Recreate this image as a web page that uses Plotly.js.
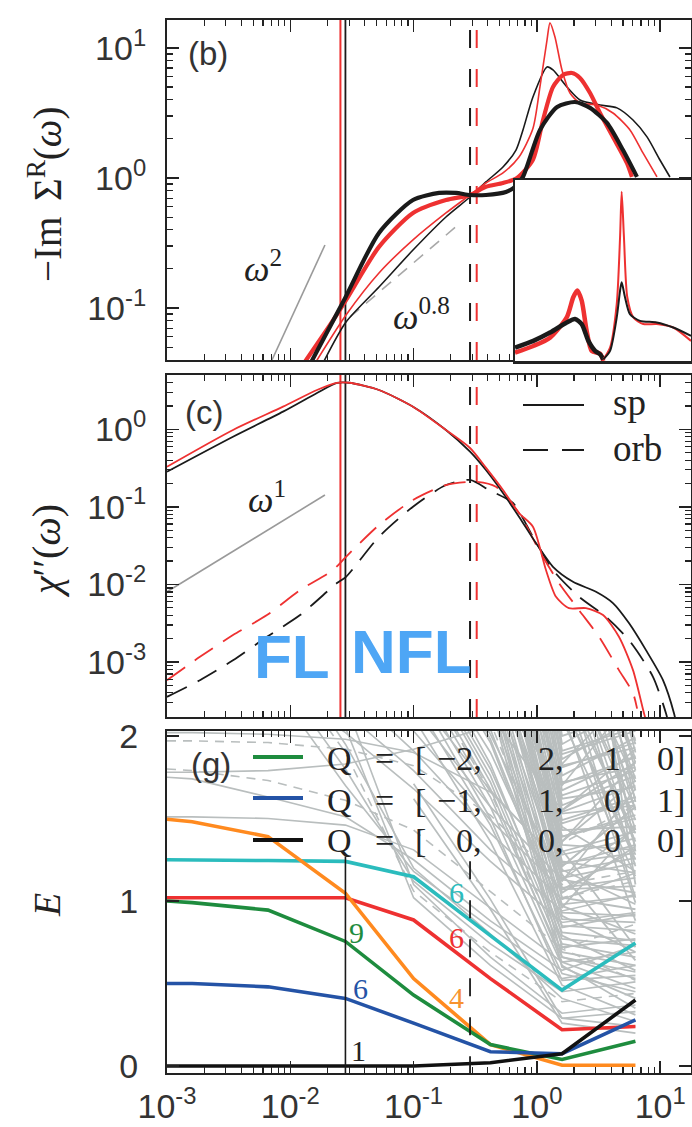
<!DOCTYPE html>
<html>
<head>
<meta charset="utf-8">
<script src="https://cdn.plot.ly/plotly-3.0.1.min.js"></script>
<style>
  html, body { margin: 0; padding: 0; background: #fff; }
  #chart { width: 692px; height: 1127px; }
</style>
</head>
<body>
<div id="chart"></div>
<script>
// ---------- panel (b): -Im Sigma^R(omega) ----------
const bThickBlackW = [0.0147, 0.0278, 0.0524, 0.0989, 0.161, 0.221, 0.287, 0.386, 0.561, 0.670, 0.771, 1.06, 1.46, 2.04, 2.70, 3.70, 4.99, 6.48];
const bThickBlackS = [0.038, 0.119, 0.378, 0.677, 0.767, 0.767, 0.740, 0.740, 0.780, 0.860, 1.02, 2.34, 3.52, 3.84, 3.46, 2.65, 1.64, 1.02];
const bThickRedW = [0.0130, 0.0210, 0.0283, 0.0524, 0.0989, 0.183, 0.287, 0.386, 0.531, 0.690, 0.929, 1.121, 1.351, 1.628, 1.926, 2.237, 2.70, 3.25, 4.14, 5.38, 5.90];
const bThickRedS = [0.038, 0.074, 0.115, 0.295, 0.538, 0.677, 0.740, 0.855, 0.915, 1.00, 1.38, 2.79, 5.01, 6.20, 6.42, 5.88, 4.50, 3.16, 2.07, 1.30, 1.02];
const bThinRedW = [0.0160, 0.0283, 0.0524, 0.0989, 0.183, 0.287, 0.386, 0.531, 0.716, 0.929, 1.059, 1.208, 1.277, 1.40, 1.598, 1.855, 2.237, 3.07, 4.14, 5.69, 7.25, 9.42];
const bThinRedS = [0.038, 0.0883, 0.186, 0.334, 0.538, 0.740, 0.915, 1.093, 1.45, 2.40, 5.01, 11.5, 15.6, 12.2, 6.77, 4.50, 3.78, 3.64, 3.16, 2.34, 1.557, 1.018];
const bThinBlackW = [0.0185, 0.0283, 0.0524, 0.0989, 0.183, 0.287, 0.386, 0.531, 0.677, 0.771, 0.929, 1.208, 1.351, 1.754, 2.237, 3.25, 4.46, 6.02, 7.82, 9.96, 12.0];
const bThinBlackS = [0.038, 0.078, 0.145, 0.279, 0.501, 0.714, 0.932, 1.215, 1.64, 2.34, 4.20, 7.14, 6.77, 5.01, 3.98, 3.64, 3.46, 2.79, 2.07, 1.375, 1.018];
const omega2W = [0.0071, 0.0191];
const omega2S = [0.0398, 0.305];
const omega08W = [0.0305, 0.229];
const omega08S = [0.0853, 0.435];

// inset of panel (b), linear frequency axis
const insetThickBlackX = [0, 0.104, 0.199, 0.294, 0.341, 0.379, 0.417, 0.455, 0.483, 0.502];
const insetThickBlackY = [0.074, 0.111, 0.157, 0.213, 0.232, 0.204, 0.111, 0.056, 0.037, 0.009];
const insetThickRedX = [0, 0.104, 0.199, 0.294, 0.331, 0.354, 0.379, 0.407, 0.436, 0.483, 0.502];
const insetThickRedY = [0.046, 0.083, 0.129, 0.241, 0.352, 0.389, 0.333, 0.167, 0.056, 0.041, 0.0];
const insetThinBlackX = [0.502, 0.540, 0.578, 0.597, 0.606, 0.625, 0.653, 0.710, 0.805, 0.899, 1.0];
const insetThinBlackY = [0.009, 0.056, 0.241, 0.389, 0.435, 0.352, 0.259, 0.222, 0.213, 0.185, 0.139];
const insetThinRedX = [0.502, 0.540, 0.578, 0.597, 0.606, 0.619, 0.638, 0.672, 0.729, 0.805, 0.899, 1.0];
const insetThinRedY = [0.009, 0.074, 0.315, 0.685, 0.935, 0.685, 0.352, 0.241, 0.204, 0.204, 0.185, 0.111];

// ---------- panel (c): chi''(omega) ----------
const cSpBlackW = [0.001, 0.00343, 0.00873, 0.01646, 0.02392, 0.0300, 0.0524, 0.0989, 0.183, 0.287, 0.386, 0.531, 0.716, 0.983, 1.351, 1.962, 3.015, 4.14, 5.58, 7.67, 10.54, 12.94, 13.6];
const cSpBlackV = [0.284, 0.803, 1.687, 2.94, 3.96, 3.98, 3.21, 1.957, 0.98, 0.514, 0.298, 0.1507, 0.0745, 0.0341, 0.01687, 0.01081, 0.00803, 0.00574, 0.00317, 0.00142, 0.000582, 0.000218, 0.00015];
const cSpRedW = [0.001, 0.00343, 0.00873, 0.01646, 0.02392, 0.0300, 0.0524, 0.0989, 0.183, 0.287, 0.386, 0.531, 0.716, 0.929, 1.185, 1.429, 1.82, 2.5, 3.44, 4.63, 6.02, 7.39, 7.9];
const cSpRedV = [0.329, 0.98, 1.957, 3.21, 3.96, 3.98, 3.21, 1.957, 0.98, 0.574, 0.32, 0.165, 0.0832, 0.0554, 0.0153, 0.00692, 0.00494, 0.00494, 0.00402, 0.00211, 0.000784, 0.000218, 0.00015];
const cOrbBlackW = [0.001, 0.00185, 0.00343, 0.00647, 0.0120, 0.02392, 0.0283, 0.0524, 0.0989, 0.183, 0.287, 0.409, 0.640, 0.929, 1.351, 2.195, 3.63, 5.58, 8.74, 11.14, 11.8];
const cOrbBlackV = [0.000355, 0.000582, 0.00105, 0.00211, 0.00402, 0.0104, 0.01253, 0.0411, 0.1003, 0.191, 0.222, 0.165, 0.112, 0.0411, 0.0153, 0.00692, 0.00382, 0.00191, 0.000643, 0.000218, 0.00015];
const cOrbRedW = [0.001, 0.00185, 0.00343, 0.00647, 0.0120, 0.0222, 0.0283, 0.0524, 0.0989, 0.183, 0.3207, 0.4656, 0.716, 1.04, 1.51, 2.195, 3.19, 4.63, 6.02, 6.5];
const cOrbRedV = [0.000582, 0.001164, 0.00222, 0.00402, 0.00844, 0.0153, 0.0227, 0.0582, 0.1224, 0.191, 0.211, 0.1817, 0.0832, 0.0277, 0.0104, 0.00466, 0.00211, 0.000784, 0.000396, 0.00025];
const omega1W = [0.001, 0.0191];
const omega1V = [0.00803, 0.142];

// crossover scales (FL | NFL) marked by vertical lines
const solidMarks = { red: 0.0255, black: 0.0280 };
const dashedMarks = { red: 0.325, black: 0.287 };

// ---------- panel (g): level spectrum E(T) ----------
const tNodes = [0.001, 0.0016, 0.0066, 0.028, 0.1, 0.42, 1.6, 6.3];
const tNodesHigh = [0.1, 0.42, 1.6, 6.3];
const tNodesTop = [0.42, 1.6, 6.3];
const levelGreen  = [1.00, 0.99, 0.945, 0.755, 0.43, 0.13, 0.04, 0.15];
const levelBlue   = [0.50, 0.50, 0.48, 0.41, 0.26, 0.087, 0.075, 0.28];
const levelBlack  = [0.0, 0.0, 0.0, 0.0, 0.0, 0.02, 0.075, 0.40];
const levelOrange = [1.495, 1.48, 1.39, 1.047, 0.53, 0.13, 0.005, 0.005];
const levelCyan   = [1.25, 1.25, 1.245, 1.24, 1.147, 0.79, 0.46, 0.745];
const levelRed    = [1.02, 1.02, 1.02, 1.02, 0.885, 0.53, 0.22, 0.24];

const greyLow = [
  [2.02, 2.02, 2.01, 1.98, 1.90, 1.66, 1.22, 1.34],
  [1.78, 1.78, 1.79, 1.83, 1.92, 2.06, 2.28, 2.40],
  [1.75, 1.74, 1.63, 1.51, 1.25, 0.88, 0.58, 0.73],
  [1.51, 1.51, 1.50, 1.46, 1.31, 0.96, 0.63, 0.69],
  [2.45, 2.45, 2.35, 2.02, 1.68, 1.24, 0.87, 0.93],
  [2.62, 2.62, 2.50, 2.14, 1.79, 1.31, 0.94, 1.04],
  [2.85, 2.85, 2.71, 2.29, 1.91, 1.41, 1.01, 1.17],
  [3.05, 3.05, 2.92, 2.46, 2.03, 1.49, 1.07, 1.31],
  [3.25, 3.25, 3.10, 2.61, 2.16, 1.57, 1.13, 1.44],
  [3.45, 3.45, 3.30, 2.76, 2.26, 1.67, 1.21, 1.57],
  [2.60, 2.60, 2.45, 1.80, 1.12, 0.74, 0.45, 0.51],
  [2.50, 2.50, 2.35, 1.70, 1.18, 0.84, 0.53, 0.61],
  [2.90, 2.90, 2.75, 2.05, 1.02, 0.61, 0.29, 0.33],
  [3.10, 3.10, 2.95, 2.20, 1.10, 0.66, 0.32, 0.37],
  [2.80, 2.80, 2.65, 1.95, 1.20, 0.80, 0.41, 0.27]
];
const greyLowDashed = [
  [1.97, 1.97, 1.96, 1.92, 1.82, 1.52, 1.10, 1.18],
  [1.80, 1.79, 1.73, 1.61, 1.43, 1.06, 0.71, 0.86],
  [2.70, 2.70, 2.55, 1.90, 1.06, 0.69, 0.39, 0.44]
];
const greyHigh = [
  [2.55, 1.72, 0.69, 0.61], [2.68, 1.83, 0.77, 0.73], [2.74, 1.96, 0.85, 0.82],
  [2.90, 2.04, 0.93, 0.91], [2.96, 2.17, 0.98, 1.03], [3.10, 2.24, 1.07, 1.09],
  [3.14, 2.36, 1.14, 1.23], [3.28, 2.47, 1.23, 1.29], [3.35, 2.53, 1.30, 1.42],
  [3.46, 2.66, 1.39, 1.50], [3.55, 2.74, 1.47, 1.61], [3.62, 2.86, 1.54, 1.70],
  [3.74, 2.93, 1.64, 1.79], [3.81, 3.07, 1.71, 1.87], [3.93, 3.14, 1.81, 1.96],
  [4.02, 3.26, 1.89, 2.03], [4.10, 3.38, 2.31, 1.41], [4.21, 3.49, 2.52, 1.56],
  [4.30, 3.57, 2.68, 1.72], [4.37, 3.66, 2.93, 1.84], [4.45, 3.78, 3.18, 1.97],
  [2.36, 1.57, 0.61, 0.35], [2.22, 1.46, 0.56, 0.45], [2.11, 1.36, 0.49, 0.31],
  [2.41, 1.63, 0.66, 0.57], [2.57, 1.76, 0.74, 0.66], [1.62, 0.95, 0.26, 0.20],
  [1.71, 1.01, 0.29, 0.24], [4.50, 3.85, 2.10, 1.15], [4.60, 3.95, 2.20, 1.28],
  [4.70, 4.05, 2.45, 1.02], [4.80, 4.15, 2.62, 1.33], [2.80, 2.12, 1.55, 1.92],
  [3.00, 2.30, 1.70, 2.25], [2.90, 2.40, 1.36, 1.84], [3.20, 2.58, 1.83, 2.30],
  [2.64, 1.90, 0.96, 1.46], [2.75, 2.01, 1.12, 1.68], [3.40, 2.80, 1.19, 0.98],
  [3.52, 2.90, 1.45, 1.18], [2.30, 1.50, 0.52, 0.55], [2.48, 1.68, 0.63, 0.47],
  [2.60, 1.80, 0.81, 0.76], [2.83, 1.98, 0.89, 0.87]
];
const greyHighDashed = [
  [2.86, 2.08, 1.02, 1.12], [3.32, 2.62, 1.35, 1.58], [2.46, 1.66, 0.71, 0.52]
];
// levels entering from above near T ~ 1
const greyTop = [
  [2.60, 1.02, 0.95], [2.70, 1.08, 1.14], [2.80, 1.13, 1.05], [2.90, 1.18, 1.26],
  [3.00, 1.24, 1.17], [3.10, 1.28, 1.38], [3.20, 1.34, 1.31], [3.30, 1.39, 1.52],
  [3.40, 1.43, 1.45], [3.50, 1.49, 1.63], [3.60, 1.53, 1.58], [3.70, 1.58, 1.76],
  [3.80, 1.62, 1.69], [3.90, 1.67, 1.88], [4.00, 1.72, 1.81], [4.10, 1.76, 1.99],
  [4.20, 1.82, 1.93], [4.30, 1.86, 2.10], [4.40, 1.91, 2.05], [4.50, 1.95, 2.20],
  [4.60, 2.00, 2.15], [2.50, 0.97, 0.80], [2.45, 0.91, 0.69], [2.40, 0.84, 0.92],
  [2.35, 0.79, 0.58], [2.30, 0.72, 0.77], [2.25, 0.66, 0.53], [2.20, 0.60, 0.41],
  [3.00, 2.20, 1.25], [3.20, 2.40, 1.36], [3.40, 2.55, 1.49], [3.60, 2.75, 1.62],
  [3.80, 2.95, 1.74], [4.00, 3.10, 1.86], [4.20, 3.30, 1.95], [4.40, 3.50, 1.60],
  [4.60, 3.70, 1.30], [4.80, 3.90, 1.10], [2.90, 2.15, 0.88], [3.10, 2.35, 0.99],
  [3.35, 2.62, 1.21], [3.55, 2.85, 1.43], [3.75, 3.02, 1.55], [3.95, 3.22, 1.67],
  [4.15, 3.42, 1.79], [4.35, 3.60, 1.90], [2.65, 1.05, 1.33], [2.95, 1.21, 1.57],
  [3.25, 1.36, 1.73], [3.65, 1.55, 1.84], [2.85, 1.16, 0.64], [3.15, 1.31, 0.72]
];

// degeneracy labels and quantum-number legend
const degeneracy = [
  { text: '9', color: '#1e8c3e', px: 356, py: 932 },
  { text: '6', color: '#2453a6', px: 360, py: 988 },
  { text: '1', color: '#222222', px: 358, py: 1050 },
  { text: '6', color: '#2bbcbd', px: 456, py: 893 },
  { text: '6', color: '#ee3131', px: 456, py: 937 },
  { text: '4', color: '#f7932e', px: 456, py: 997 }
];
const qRows = [
  { color: '#1e8c3e', cells: ['\u22122,', '2,', '1', '0]'] },
  { color: '#2453a6', cells: ['\u22121,', '1,', '0', '1]'] },
  { color: '#111111', cells: ['0,', '0,', '0', '0]'] }
];

// ---------- helpers ----------
const W = 692, H = 1127, ML = 167, MR = 1, MT = 20, MB = 54;
const pw = W - ML - MR, ph = H - MT - MB;
const px = v => (v - ML) / pw;          // pixel column -> paper x
const py = v => (H - MB - v) / ph;      // pixel row -> paper y

const traces = [];
function addLine(x, y, ax, color, width, dash, spline) {
  traces.push({
    type: 'scatter', mode: 'lines', x: x, y: y,
    xaxis: 'x' + ax, yaxis: 'y' + ax,
    line: { color: color, width: width, dash: dash || 'solid', shape: spline ? 'spline' : 'linear', smoothing: 0.7 },
    hoverinfo: 'skip', showlegend: false
  });
}

const RED = '#ee3131', BLK = '#1a1a1a', GREY = '#9a9a9a', LGREY = '#b9bebe';

// panel (b)
addLine(omega2W, omega2S, '', GREY, 1.6);
addLine(omega08W, omega08S, '', '#a8a8a8', 1.6, '12px,9px');
addLine(bThinBlackW, bThinBlackS, '', BLK, 1.6, null, true);
addLine(bThinRedW, bThinRedS, '', RED, 1.6, null, true);
addLine(bThickRedW, bThickRedS, '', RED, 4.2, null, true);
addLine(bThickBlackW, bThickBlackS, '', BLK, 4.2, null, true);
// inset
addLine(insetThickRedX, insetThickRedY, '4', RED, 4.5, null, true);
addLine(insetThickBlackX, insetThickBlackY, '4', BLK, 4.5, null, true);
addLine(insetThinRedX, insetThinRedY, '4', RED, 2, null, true);
addLine(insetThinBlackX, insetThinBlackY, '4', BLK, 2, null, true);
// panel (c)
addLine(omega1W, omega1V, '2', GREY, 1.6);
addLine(cOrbBlackW, cOrbBlackV, '2', BLK, 1.8, '22px,12px', true);
addLine(cOrbRedW, cOrbRedV, '2', RED, 1.8, '22px,12px', true);
addLine(cSpBlackW, cSpBlackV, '2', BLK, 1.8, null, true);
addLine(cSpRedW, cSpRedV, '2', RED, 1.8, null, true);
// panel (g)
greyLow.forEach(r => addLine(tNodes, r, '3', LGREY, 1.6));
greyLowDashed.forEach(r => addLine(tNodes, r, '3', LGREY, 1.6, '9px,7px'));
greyHigh.forEach(r => addLine(tNodesHigh, r, '3', LGREY, 1.7));
greyHighDashed.forEach(r => addLine(tNodesHigh, r, '3', LGREY, 1.6, '9px,7px'));
greyTop.forEach(r => addLine(tNodesTop, r, '3', LGREY, 1.8));
addLine(tNodes, levelCyan, '3', '#2bbcbd', 3.6);
addLine(tNodes, levelRed, '3', '#ee3131', 3.6);
addLine(tNodes, levelOrange, '3', '#ff8a1f', 3.6);
addLine(tNodes, levelGreen, '3', '#1e8c3e', 3.6);
addLine(tNodes, levelBlue, '3', '#2453a6', 3.6);
addLine(tNodes, levelBlack, '3', '#111111', 3.6);

// ---------- axes ----------
const minorVals = [];
for (let e = -4; e <= 1; e++) for (let k = 2; k <= 9; k++) minorVals.push(k * Math.pow(10, e));
const tickFont = { family: 'Liberation Sans, Arial, sans-serif', size: 34, color: '#333' };
const sup = e => '10<sup>' + e + '</sup>';
const baseAxis = {
  showgrid: false, zeroline: false, showline: true, linecolor: '#222', linewidth: 2,
  mirror: 'ticks', ticks: 'inside', ticklen: 12, tickwidth: 1.5, tickcolor: '#222',
  tickfont: tickFont, fixedrange: true
};
const logMinor = { ticks: 'inside', ticklen: 6, tickwidth: 1.2, tickcolor: '#222', tickmode: 'array', tickvals: minorVals, showgrid: false };
function xAxis(anchor, labels) {
  return Object.assign({}, baseAxis, {
    type: 'log', range: [-3, 1.25], domain: [0, 1], anchor: anchor,
    tickmode: 'array', tickvals: [0.001, 0.01, 0.1, 1, 10],
    ticktext: [sup('-3'), sup('-2'), sup('-1'), sup('0'), sup('1')],
    showticklabels: labels, ticklabelstandoff: 2, minor: logMinor
  });
}

const layout = {
  width: W, height: H,
  margin: { l: ML, r: MR, t: MT, b: MB },
  paper_bgcolor: '#fff', plot_bgcolor: '#fff',
  font: { family: 'Liberation Sans, Arial, sans-serif', color: '#222' },
  showlegend: false, hovermode: false,
  xaxis: xAxis('y', false),
  yaxis: Object.assign({}, baseAxis, {
    type: 'log', range: [-1.4, 1.215], domain: [py(360), py(20)], anchor: 'x',
    tickmode: 'array', tickvals: [0.1, 1, 10], ticktext: [sup('-1'), sup('0'), sup('1')],
    ticklabelstandoff: 12, minor: logMinor
  }),
  xaxis2: xAxis('y2', false),
  yaxis2: Object.assign({}, baseAxis, {
    type: 'log', range: [-3.71, 0.70], domain: [py(717), py(375)], anchor: 'x2',
    tickmode: 'array', tickvals: [0.001, 0.01, 0.1, 1], ticktext: [sup('-3'), sup('-2'), sup('-1'), sup('0')],
    ticklabelstandoff: 12, minor: logMinor
  }),
  xaxis3: xAxis('y3', true),
  yaxis3: Object.assign({}, baseAxis, {
    type: 'linear', range: [-0.042, 2.03], domain: [0, py(731)], anchor: 'x3',
    tickmode: 'array', tickvals: [0, 1, 2], ticktext: ['0', '1', '2'], ticklabelstandoff: 20
  }),
  xaxis4: {
    domain: [px(515), 1], range: [0, 1], anchor: 'y4', showgrid: false, zeroline: false,
    showline: true, mirror: true, linecolor: '#222', linewidth: 2.5, ticks: '', showticklabels: false, fixedrange: true
  },
  yaxis4: {
    domain: [py(361), py(180)], range: [0, 1], anchor: 'x4', showgrid: false, zeroline: false,
    showline: true, mirror: true, linecolor: '#222', linewidth: 2.5, ticks: '', showticklabels: false, fixedrange: true
  },
  shapes: [],
  annotations: []
};

// vertical crossover lines
[['', 'y domain'], ['2', 'y2 domain']].forEach(([ax, yref]) => {
  layout.shapes.push(
    { type: 'line', xref: 'x' + ax, yref: yref, x0: solidMarks.red, x1: solidMarks.red, y0: 0, y1: 1, layer: 'below', line: { color: RED, width: 2 } },
    { type: 'line', xref: 'x' + ax, yref: yref, x0: solidMarks.black, x1: solidMarks.black, y0: 0, y1: 1, layer: 'below', line: { color: BLK, width: 1.8 } },
    { type: 'line', xref: 'x' + ax, yref: yref, x0: dashedMarks.black, x1: dashedMarks.black, y0: 0, y1: 1, layer: 'below', line: { color: BLK, width: 2, dash: '18px,21px' } },
    { type: 'line', xref: 'x' + ax, yref: yref, x0: dashedMarks.red, x1: dashedMarks.red, y0: 0, y1: 1, layer: 'below', line: { color: RED, width: 2, dash: '18px,21px' } }
  );
});
layout.shapes.push(
  { type: 'line', xref: 'x3', yref: 'y3', x0: solidMarks.black, x1: solidMarks.black, y0: -0.05, y1: 1.27, layer: 'above', line: { color: BLK, width: 1.6 } },
  { type: 'line', xref: 'x3', yref: 'y3', x0: dashedMarks.black, x1: dashedMarks.black, y0: -0.05, y1: 1.27, layer: 'above', line: { color: BLK, width: 1.8, dash: '18px,21px' } }
);

// legend of panel (c)
layout.shapes.push(
  { type: 'line', xref: 'paper', yref: 'paper', x0: px(523), x1: px(584), y0: py(405), y1: py(405), line: { color: BLK, width: 1.8 } },
  { type: 'line', xref: 'paper', yref: 'paper', x0: px(523), x1: px(584), y0: py(450), y1: py(450), line: { color: BLK, width: 1.8, dash: '25px,14px' } }
);
// legend of panel (g)
qRows.forEach((row, i) => {
  const yy = [757, 798, 840][i];
  layout.shapes.push({ type: 'line', xref: 'paper', yref: 'paper', x0: px(253), x1: px(303), y0: py(yy), y1: py(yy), line: { color: row.color, width: 4 } });
});

const serif = 'Liberation Serif, Times New Roman, serif';
function note(text, x, y, size, opts) {
  layout.annotations.push(Object.assign({
    text: text, xref: 'paper', yref: 'paper', x: px(x), y: py(y), showarrow: false,
    xanchor: 'center', yanchor: 'middle', font: { family: serif, size: size, color: '#222' }
  }, opts || {}));
}

// axis titles
note('\u2212Im\u2009\u2009\u03A3<sup>R</sup>(<i>\u03C9</i>)', 46, 195, 39, { textangle: -90 });
note('<i>\u03C7</i>\u2032\u2032(<i>\u03C9</i>)', 46, 551, 40, { textangle: -90 });
note('<i>E</i>', 47, 905, 38, { textangle: -90 });

// panel tags
const sansTag = { family: 'Liberation Sans, Arial, sans-serif', size: 33, color: '#333' };
note('(b)', 208, 53, 33, { font: sansTag });
note('(c)', 204, 412, 33, { font: sansTag });
note('(g)', 211, 764, 33, { font: sansTag });

// power-law guides
note('<i>\u03C9</i><sup>2</sup>', 263, 266, 36);
note('<i>\u03C9</i><sup>0.8</sup>', 421, 314, 36);
note('<i>\u03C9</i><sup>1</sup>', 267, 498, 36);

// sp / orb legend text
note('sp', 611, 402, 37, { xanchor: 'left' });
note('orb', 611, 448, 37, { xanchor: 'left' });

// FL / NFL regime labels
const regimeFont = { family: 'Liberation Sans, Arial, sans-serif', size: 62, color: '#4ea6f5' };
note('<b>FL</b>', 292, 656, 62, { font: regimeFont });
note('<b>NFL</b>', 411, 651, 62, { font: regimeFont });

// degeneracies
degeneracy.forEach(d => note(d.text, d.px, d.py, 30, { font: { family: serif, size: 30, color: d.color } }));

// quantum numbers Q = [ ... ]
qRows.forEach((row, i) => {
  const yy = [758, 800, 841][i];
  note('Q', 325, yy, 34, { xanchor: 'left' });
  note('=', 384, yy, 34);
  note('[', 413, yy, 34, { xanchor: 'left' });
  note(row.cells[0], 484, yy, 34, { xanchor: 'right' });
  note(row.cells[1], 566, yy, 34, { xanchor: 'right' });
  note(row.cells[2], 612, yy, 34);
  note(row.cells[3], 687, yy, 34, { xanchor: 'right' });
});

Plotly.newPlot('chart', traces, layout, { staticPlot: true, displayModeBar: false });
</script>
</body>
</html>
